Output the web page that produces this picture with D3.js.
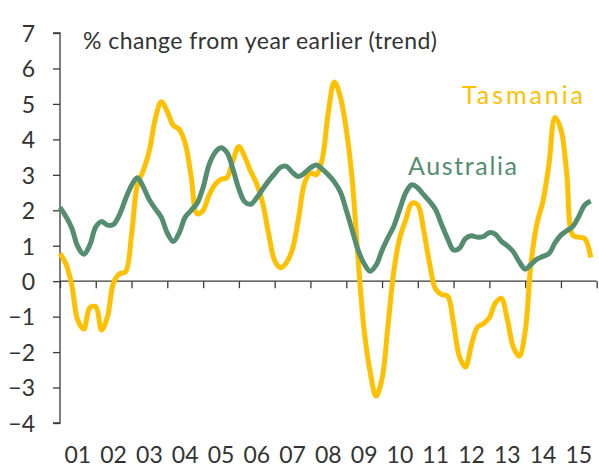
<!DOCTYPE html>
<html>
<head>
<meta charset="utf-8">
<script src="https://cdn.jsdelivr.net/npm/d3@7/dist/d3.min.js"></script>
<style>
  body { margin: 0; background: #fff; }
  text { font-family: Lato, "Open Sans", sans-serif; }
</style>
</head>
<body>
<svg width="599" height="468"></svg>
<script>
// bimonthly readings, Jan 2001 to Nov 2015
const startYear = 2001;
const stepMonths = 2;

const tasmania = [
  0.78, 0.5, -0.1, -1.1, -1.35, -0.75, -0.72, -1.38, -1.0, -0.05,
  0.21, 0.26, 1.31, 2.7, 3.12, 3.67, 4.58, 5.06, 4.78, 4.40,
  4.28, 3.9, 2.95, 1.9, 2.0, 2.42, 2.72, 2.87, 2.92, 3.40,
  3.8, 3.51, 3.1, 2.75, 2.2, 1.33, 0.58, 0.38, 0.52, 0.9,
  1.76, 2.75, 3.06, 3.0, 3.45, 4.75, 5.62, 5.2, 4.28, 2.9,
  0.65, -1.35, -2.55, -3.24, -2.75, -1.3, 0.28, 1.22, 1.74, 2.2,
  2.15, 1.45, 0.5, -0.22, -0.38, -0.42, -1.2, -2.13, -2.42, -1.8,
  -1.3, -1.2, -1.03, -0.62, -0.48, -1.05, -1.85, -2.12, -1.42, 0.5,
  1.62, 2.25, 3.3, 4.62, 4.28, 3.05, 1.3, 1.24, 1.2, 0.67
];

const australia = [
  2.08, 1.83, 1.5, 0.98, 0.76, 1.02, 1.53, 1.68, 1.58, 1.6,
  1.88, 2.32, 2.7, 2.92, 2.66, 2.3, 2.04, 1.8, 1.36, 1.12,
  1.36, 1.8, 2.0, 2.2, 2.65, 3.27, 3.62, 3.76, 3.63, 3.16,
  2.6, 2.24, 2.17, 2.35, 2.6, 2.83, 3.03, 3.21, 3.24, 3.07,
  2.95, 3.05, 3.2, 3.28, 3.16, 3.0, 2.8, 2.52, 2.0, 1.45,
  0.88, 0.5, 0.28, 0.45, 0.87, 1.22, 1.55, 2.03, 2.5, 2.72,
  2.63, 2.44, 2.25, 2.02, 1.6, 1.2, 0.88, 0.93, 1.2, 1.28,
  1.24, 1.26, 1.37, 1.33, 1.13, 1.0, 0.83, 0.55, 0.34, 0.47,
  0.62, 0.7, 0.78, 1.08, 1.3, 1.42, 1.54, 1.82, 2.15, 2.26
];

const yearLabels = ['01', '02', '03', '04', '05', '06', '07', '08',
  '09', '10', '11', '12', '13', '14', '15'];
const yTicks = [-4, -3, -2, -1, 0, 1, 2, 3, 4, 5, 6, 7];

const svg = d3.select('svg');
const margin = { left: 60, right: 2, top: 33, bottom: 45 };

const dateAt = i => new Date(startYear, i * stepMonths, 1);

const x = d3.scaleTime()
  .domain([new Date(startYear, 0, 1), new Date(startYear + yearLabels.length, 0, 1)])
  .range([margin.left, 596.7]);

const y = d3.scaleLinear()
  .domain([-4, 7])
  .range([423, margin.top]);

const axisColor = '#3a3a3a';

// y axis
const yAxis = svg.append('g')
  .attr('transform', `translate(${margin.left},0)`)
  .call(d3.axisLeft(y).tickValues(yTicks).tickSize(7).tickPadding(18).tickFormat(d3.format('d')));
yAxis.select('.domain').attr('stroke', axisColor).attr('stroke-width', 1.3).attr('d', `M-7,${y(7)}H0V${y(-4)}H-7`);
yAxis.selectAll('.tick line').attr('stroke', axisColor).attr('stroke-width', 1.3);
yAxis.selectAll('.tick text')
  .attr('fill', '#333')
  .style('font-size', '23px')
  .attr('dy', '0.36em');

// x axis on the zero line, labels at the bottom
const years = d3.range(yearLabels.length + 1).map(k => new Date(startYear + k, 0, 1));
const xAxis = svg.append('g')
  .attr('transform', `translate(0,${y(0)})`)
  .call(d3.axisBottom(x).tickValues(years).tickSize(7).tickFormat(''));
xAxis.select('.domain').attr('stroke', axisColor).attr('stroke-width', 1.3).attr('d', `M${x.range()[0]},0H${x.range()[1]}`);
xAxis.selectAll('.tick line').attr('stroke', axisColor).attr('stroke-width', 1.3);

svg.append('g')
  .selectAll('text')
  .data(yearLabels)
  .join('text')
    .attr('x', (d, k) => (x(years[k]) + x(years[k + 1])) / 2)
    .attr('y', 463)
    .attr('text-anchor', 'middle')
    .attr('fill', '#333')
    .style('font-size', '23px')
    .text(d => d);

const line = d3.line()
  .x((d, i) => x(dateAt(i)))
  .y(d => y(d))
  .curve(d3.curveCatmullRom.alpha(0.5));

svg.append('path')
  .datum(tasmania)
  .attr('fill', 'none')
  .attr('stroke', '#FFC000')
  .attr('stroke-width', 5)
  .attr('stroke-linejoin', 'round')
  .attr('d', line);

svg.append('path')
  .datum(australia)
  .attr('fill', 'none')
  .attr('stroke', '#548D70')
  .attr('stroke-width', 5)
  .attr('stroke-linejoin', 'round')
  .attr('d', line);

// labels
svg.append('text')
  .attr('x', 83).attr('y', 49)
  .attr('fill', '#333')
  .attr('textLength', 354)
  .attr('lengthAdjust', 'spacing')
  .style('font-size', '23px')
  .text('% change from year earlier (trend)');

svg.append('text')
  .attr('x', 462).attr('y', 104)
  .attr('fill', '#FFC000')
  .attr('textLength', 121)
  .attr('lengthAdjust', 'spacing')
  .style('font-size', '25px')
  .text('Tasmania');

svg.append('text')
  .attr('x', 408).attr('y', 175)
  .attr('fill', '#548D70')
  .attr('textLength', 109)
  .attr('lengthAdjust', 'spacing')
  .style('font-size', '25px')
  .text('Australia');
</script>
</body>
</html>
